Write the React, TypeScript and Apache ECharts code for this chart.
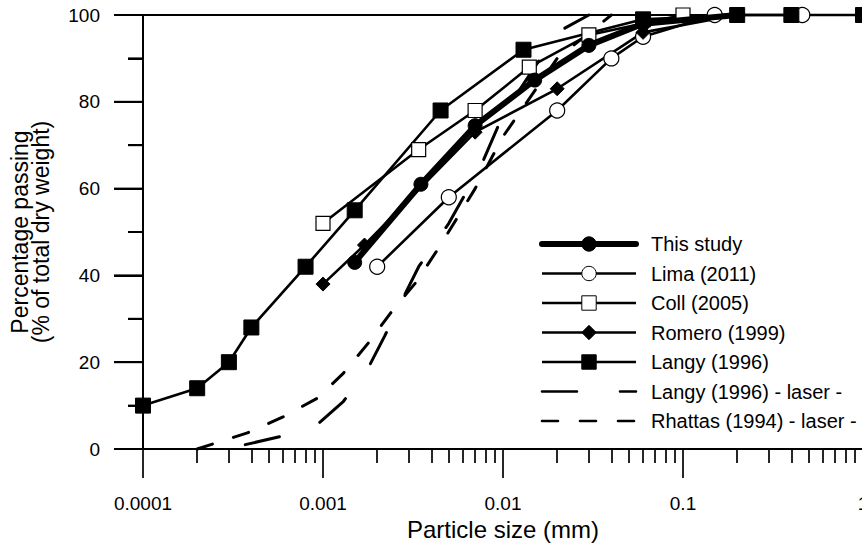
import React, { useEffect, useRef } from "react";
import * as echarts from "echarts";

// ---- data (particle size in mm, percentage passing) ----
const thisStudyX = [0.0015, 0.0035, 0.007, 0.015, 0.03, 0.06, 0.2];
const thisStudyY = [43, 61, 74.5, 85, 93, 98, 100];

const limaX = [0.002, 0.005, 0.02, 0.04, 0.06, 0.15, 0.46];
const limaY = [42, 58, 78, 90, 95, 100, 100];

const collX = [0.001, 0.0034, 0.007, 0.014, 0.03, 0.1];
const collY = [52, 69, 78, 88, 95.4, 100];

const romeroX = [0.001, 0.0017, 0.007, 0.02, 0.06, 0.2];
const romeroY = [38, 47, 73, 83, 96, 100];

const langyX = [0.0001, 0.0002, 0.0003, 0.0004, 0.0008, 0.0015, 0.0045, 0.013, 0.06, 0.2, 0.4, 1];
const langyY = [10, 14, 20, 28, 42, 55, 78, 92, 99, 100, 100, 100];

const langyLaserX = [0.00037, 0.0006, 0.00095, 0.0013, 0.0018, 0.0022, 0.0028, 0.0034, 0.005, 0.0075, 0.01, 0.015, 0.02, 0.03];
const langyLaserY = [1, 3, 6, 11, 19, 26, 35, 42, 52, 65, 77, 88, 96, 100];

const rhattasX = [0.0002, 0.00038, 0.0006, 0.00093, 0.0013, 0.0018, 0.0024, 0.0033, 0.0045, 0.007, 0.01, 0.02, 0.04];
const rhattasY = [0, 3.7, 7.4, 11.7, 17.5, 24.6, 31.6, 38.5, 47, 60, 72, 90, 100];

const seriesNames = [
  "This study",
  "Lima (2011)",
  "Coll (2005)",
  "Romero (1999)",
  "Langy (1996)",
  "Langy (1996) - laser -",
  "Rhattas (1994) - laser -",
];

const xTickValues = [0.0001, 0.001, 0.01, 0.1, 1];
const xMinorTickValues = [2, 3, 4, 5, 6, 7, 8, 9].flatMap((m) =>
  [0.0001, 0.001, 0.01, 0.1].map((d) => m * d)
);
const yMajorTickValues = [0, 20, 40, 60, 80, 100];
const yMinorTickValues = [10, 30, 50, 70, 90];

const FONT = "Liberation Sans, Arial, sans-serif";
const DECADE_PX = 180; // pixel width of one decade on the x axis (grid width / 4)

function pairs(xs: number[], ys: number[]) {
  return xs.map((x, i) => [x, ys[i]]);
}

// x value lying `px` pixels to the left of the y axis (on the log x scale)
function leftOfAxis(px: number) {
  return xTickValues[0] * Math.pow(10, -px / DECADE_PX);
}

export default function App() {
  const ref = useRef<HTMLDivElement>(null);

  useEffect(() => {
    if (!ref.current) return;
    const chart = echarts.init(ref.current, undefined, { renderer: "svg" });

    const black = "#000";
    const markerBase = {
      type: "line" as const,
      xAxisIndex: 0,
      yAxisIndex: 0,
      clip: false,
      showSymbol: true,
      lineStyle: { color: black, width: 2.6 },
    };

    const tickLine = (v: number, len: number) => [
      { coord: [leftOfAxis(len), v] },
      { coord: [xTickValues[0], v] },
    ];

    const option: any = {
      animation: false,
      grid: { left: 143, top: 15, width: 720, height: 434, outerBoundsMode: "none" },
      legend: {
        orient: "vertical",
        left: 539,
        top: 234,
        padding: 0,
        itemWidth: 94,
        itemHeight: 18,
        itemGap: 9.5,
        textStyle: { fontFamily: FONT, fontSize: 20, color: black, padding: [0, 0, 0, 10] },
        itemStyle: { borderWidth: 1 },
        lineStyle: { width: 2.6 },
        data: seriesNames.map((n, i) =>
          i === 0 ? { name: n, lineStyle: { width: 6, cap: "round" } } : { name: n }
        ),
      },
      xAxis: [
        {
          type: "log",
          logBase: 10,
          min: 0.0001,
          max: 1,
          position: "bottom",
          name: "Particle size (mm)",
          nameLocation: "middle",
          nameGap: 62,
          nameTextStyle: { fontFamily: FONT, fontSize: 24, color: black },
          axisLine: { show: true, onZero: false, lineStyle: { color: black, width: 2 } },
          axisTick: { show: true, inside: false, length: 29, lineStyle: { color: black, width: 1.7 } },
          axisLabel: {
            show: true,
            margin: 45,
            fontFamily: FONT,
            fontSize: 19,
            color: black,
            customValues: xTickValues,
            formatter: (v: number) => String(Number(v.toPrecision(6))),
          },
          splitLine: { show: false },
        },
        {
          type: "value",
          min: -4,
          max: 0,
          position: "bottom",
          axisLine: { show: false, onZero: false },
          axisTick: {
            show: true,
            inside: false,
            length: 14,
            lineStyle: { color: black, width: 1.7 },
            customValues: xMinorTickValues.map((v) => Math.log10(v)),
          },
          axisLabel: { show: false },
          splitLine: { show: false },
        },
        {
          type: "value",
          min: 0,
          max: 1,
          position: "top",
          axisLine: { show: true, onZero: false, lineStyle: { color: black, width: 2 } },
          axisTick: { show: false },
          axisLabel: { show: false },
          splitLine: { show: false },
        },
      ],
      yAxis: [
        {
          type: "value",
          min: 0,
          max: 100,
          interval: 20,
          position: "left",
          name: "Percentage passing\n(% of total dry weight)",
          nameLocation: "middle",
          nameGap: 92,
          nameRotate: 90,
          nameTextStyle: { fontFamily: FONT, fontSize: 23, color: black, lineHeight: 21 },
          axisLine: { show: true, onZero: false, lineStyle: { color: black, width: 2 } },
          axisTick: { show: true, length: 29, lineStyle: { color: black, width: 2 } },
          minorTick: { show: true, splitNumber: 2, length: 15, lineStyle: { color: black, width: 2 } },
          axisLabel: {
            show: true,
            margin: 43,
            fontFamily: FONT,
            fontSize: 19,
            color: black,
          },
          splitLine: { show: false },
        },
      ],
      series: [
        {
          ...markerBase,
          name: seriesNames[1],
          data: pairs(limaX, limaY),
          symbol: "circle",
          symbolSize: 15,
          itemStyle: { color: "#fff", borderColor: black, borderWidth: 1.2 },
          z: 3,
        },
        {
          ...markerBase,
          name: seriesNames[2],
          data: pairs(collX, collY),
          symbol: "rect",
          symbolSize: 14,
          itemStyle: { color: "#fff", borderColor: black, borderWidth: 1.2 },
          z: 3,
        },
        {
          ...markerBase,
          name: seriesNames[3],
          data: pairs(romeroX, romeroY),
          symbol: "diamond",
          symbolSize: 14,
          itemStyle: { color: black, borderColor: black, borderWidth: 1 },
          z: 3,
        },
        {
          ...markerBase,
          name: seriesNames[4],
          data: pairs(langyX, langyY),
          symbol: "rect",
          symbolSize: 15,
          itemStyle: { color: black, borderColor: black, borderWidth: 1 },
          z: 3,
        },
        {
          ...markerBase,
          name: seriesNames[5],
          data: pairs(langyLaserX, langyLaserY),
          symbol: "none",
          showSymbol: false,
          lineStyle: { color: black, width: 3, type: [35, 43], cap: "round", join: "round" },
          itemStyle: { color: "rgba(0,0,0,0)", borderWidth: 0 },
          z: 2,
        },
        {
          ...markerBase,
          name: seriesNames[6],
          data: pairs(rhattasX, rhattasY),
          symbol: "none",
          showSymbol: false,
          lineStyle: { color: black, width: 3, type: [16, 22], cap: "round", join: "round" },
          itemStyle: { color: "rgba(0,0,0,0)", borderWidth: 0 },
          z: 2,
        },
        {
          ...markerBase,
          name: seriesNames[0],
          data: pairs(thisStudyX, thisStudyY),
          symbol: "circle",
          symbolSize: 14,
          lineStyle: { color: black, width: 6, cap: "round", join: "round" },
          itemStyle: { color: black, borderColor: black, borderWidth: 1 },
          z: 4,
        },
        {
          // helper: y-axis tick marks drawn as mark lines on the axes' scales
          type: "line",
          xAxisIndex: 0,
          yAxisIndex: 0,
          clip: false,
          silent: true,
          symbol: "none",
          data: [[xTickValues[0], yMajorTickValues[0]]],
          lineStyle: { opacity: 0 },
          z: 5,
          markLine: {
            silent: true,
            animation: false,
            symbol: ["none", "none"],
            label: { show: false },
            emphasis: { disabled: true },
            lineStyle: { color: black, width: 2, type: "solid" },
            data: [
              ...yMajorTickValues.map((v) => tickLine(v, 29)),
              ...yMinorTickValues.map((v) => tickLine(v, 15)),
            ],
          },
        },
      ],
    };

    chart.setOption(option);

    // extra safeguard: y-axis ticks as graphic lines, positioned through the chart's scales
    try {
      const mk = (v: number, len: number) => {
        const p: any = chart.convertToPixel({ xAxisIndex: 0, yAxisIndex: 0 } as any, [xTickValues[0], v]);
        if (!p || !isFinite(p[0]) || !isFinite(p[1])) return null;
        return {
          type: "line",
          silent: true,
          z: 50,
          shape: { x1: p[0] - len, y1: p[1], x2: p[0], y2: p[1] },
          style: { stroke: black, lineWidth: 2 },
        };
      };
      const els = [
        ...yMajorTickValues.map((v) => mk(v, 29)),
        ...yMinorTickValues.map((v) => mk(v, 15)),
      ].filter(Boolean);
      if (els.length) chart.setOption({ graphic: { elements: els } });
    } catch (e) {
      // ignore
    }

    return () => chart.dispose();
  }, []);

  return (
    <div
      ref={ref}
      style={{ position: "absolute", left: 0, top: 0, width: 862, height: 544, background: "#fff" }}
    />
  );
}
